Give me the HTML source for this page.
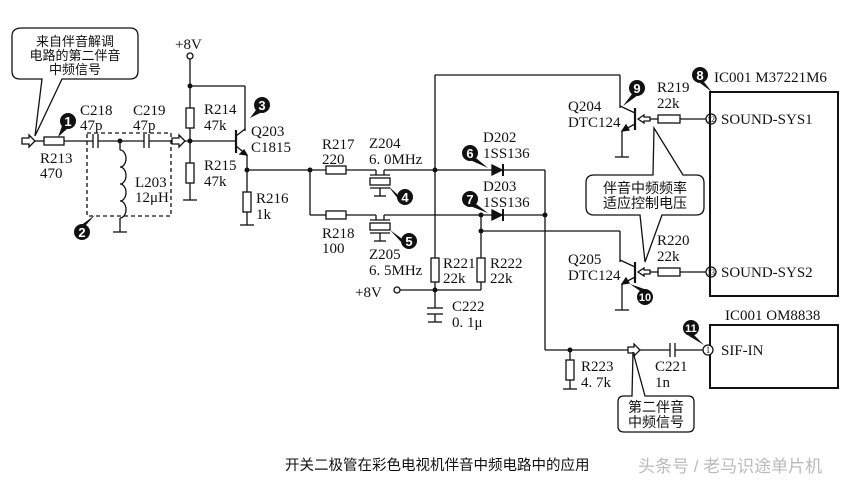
<!DOCTYPE html>
<html><head><meta charset="utf-8"><style>
html,body{margin:0;padding:0;background:#fff;}
svg{display:block;}
text{font-family:"Liberation Serif","Noto Serif CJK SC",serif;font-size:15px;fill:#111;}
.cj{font-family:"Liberation Sans","Noto Sans CJK SC",sans-serif;font-size:13px;}
.b{font-family:"Liberation Sans",sans-serif;font-size:13px;font-weight:bold;fill:#fff;}
.b2{font-family:"Liberation Sans",sans-serif;font-size:11px;font-weight:bold;fill:#fff;}
</style></head><body>
<svg width="851" height="486" viewBox="0 0 851 486" xmlns="http://www.w3.org/2000/svg">
<g stroke="#111" stroke-width="1.3" fill="none">
<path d="M22,28 H130 Q138,28 138,36 V71 Q138,79 130,79 H62 L35,136 L42,79 H20 Q12,79 12,71 V36 Q12,28 22,28 Z" fill="#fff"/>
<path d="M22,138 H29 V135 L35,141 L29,147 V144 H22 Z"/>
<line x1="35" y1="141" x2="44" y2="141"/>
<rect x="44" y="137" width="20" height="8"/>
<line x1="64" y1="141" x2="93" y2="141"/>
<line x1="93" y1="134" x2="93" y2="148"/><line x1="98" y1="134" x2="98" y2="148"/>
<line x1="98" y1="141" x2="144" y2="141"/>
<line x1="144" y1="134" x2="144" y2="148"/><line x1="149" y1="134" x2="149" y2="148"/>
<line x1="149" y1="141" x2="172" y2="141"/>
<line x1="120" y1="141" x2="120" y2="150"/>
<path d="M120,150 a6,8.5 0 0 1 0,17 a6,8.5 0 0 1 0,17 a6,8.5 0 0 1 0,17 a6,8.5 0 0 1 0,17"/>
<line x1="120" y1="218" x2="120" y2="232"/>
<line x1="113" y1="232" x2="127" y2="232"/>
<rect x="87" y="133" width="84" height="83" stroke-dasharray="4,3"/>
<path d="M172,138 H179 V135 L185,141 L179,147 V144 H172 Z"/>
<line x1="185" y1="141" x2="236" y2="141"/>
<circle cx="190" cy="56" r="3"/>
<line x1="190" y1="59" x2="190" y2="108"/>
<rect x="186" y="108" width="8" height="20"/>
<line x1="190" y1="128" x2="190" y2="163"/>
<rect x="186" y="163" width="8" height="20"/>
<line x1="190" y1="183" x2="190" y2="200"/>
<line x1="183" y1="200" x2="197" y2="200"/>
<line x1="190" y1="86" x2="245" y2="86"/>
<line x1="245" y1="86" x2="245" y2="131"/>
<line x1="236" y1="130" x2="236" y2="153" stroke-width="2.2"/>
<line x1="236" y1="136" x2="245" y2="129"/>
<line x1="236" y1="146" x2="247" y2="155"/>
<path d="M247,155 L240,154 L244,150 Z" fill="#111"/>
<line x1="247" y1="155" x2="247" y2="192"/>
<rect x="243" y="192" width="8" height="20"/>
<line x1="247" y1="212" x2="247" y2="225"/>
<line x1="240" y1="225" x2="254" y2="225"/>
<line x1="247" y1="170" x2="326" y2="170"/>
<line x1="310" y1="170" x2="310" y2="215"/>
<line x1="310" y1="215" x2="326" y2="215"/>
<rect x="326" y="166" width="20" height="8"/>
<rect x="326" y="211" width="20" height="8"/>
<line x1="346" y1="170" x2="376" y2="170"/>
<line x1="346" y1="215" x2="376" y2="215"/>
<line x1="376" y1="170" x2="376" y2="175"/><line x1="384" y1="170" x2="384" y2="175"/>
<line x1="384" y1="170" x2="492" y2="170"/>
<line x1="370" y1="175" x2="390" y2="175"/>
<rect x="370" y="178" width="20" height="7"/>
<line x1="370" y1="188" x2="390" y2="188"/>
<line x1="380" y1="188" x2="380" y2="196"/><line x1="374" y1="196" x2="386" y2="196"/>
<line x1="376" y1="215" x2="376" y2="220"/><line x1="384" y1="215" x2="384" y2="220"/>
<line x1="384" y1="215" x2="492" y2="215"/>
<line x1="370" y1="220" x2="390" y2="220"/>
<rect x="370" y="223" width="20" height="7"/>
<line x1="370" y1="233" x2="390" y2="233"/>
<line x1="380" y1="233" x2="380" y2="241"/><line x1="374" y1="241" x2="386" y2="241"/>
<line x1="435" y1="75" x2="435" y2="258"/>
<line x1="435" y1="75" x2="620" y2="75"/>
<line x1="620" y1="75" x2="620" y2="108"/>
<rect x="431" y="258" width="8" height="24"/>
<line x1="435" y1="282" x2="435" y2="308"/>
<line x1="427" y1="308" x2="443" y2="308"/><line x1="427" y1="314" x2="443" y2="314"/>
<line x1="435" y1="314" x2="435" y2="322"/><line x1="428" y1="322" x2="442" y2="322"/>
<circle cx="397" cy="290" r="3"/>
<line x1="400" y1="290" x2="481" y2="290"/>
<line x1="481" y1="282" x2="481" y2="290"/>
<rect x="477" y="258" width="8" height="24"/>
<line x1="481" y1="215" x2="481" y2="258"/>
<line x1="481" y1="231" x2="620" y2="231"/>
<line x1="620" y1="231" x2="620" y2="262"/>
<path d="M492,165 L502,170 L492,175 Z" fill="#111"/><line x1="503" y1="164" x2="503" y2="176" stroke-width="2"/>
<path d="M492,210 L502,215 L492,220 Z" fill="#111"/><line x1="503" y1="209" x2="503" y2="221" stroke-width="2"/>
<line x1="503" y1="170" x2="545" y2="170"/>
<line x1="503" y1="215" x2="545" y2="215"/>
<line x1="545" y1="170" x2="545" y2="350"/>
<line x1="545" y1="350" x2="628" y2="350"/>
<path d="M628,347 H634 V344 L640,350 L634,356 V353 H628 Z"/>
<line x1="640" y1="350" x2="670" y2="350"/>
<line x1="670" y1="343" x2="670" y2="357"/><line x1="675" y1="343" x2="675" y2="357"/>
<line x1="675" y1="350" x2="705" y2="350"/>
<line x1="570" y1="350" x2="570" y2="360"/>
<rect x="566" y="360" width="8" height="20"/>
<line x1="570" y1="380" x2="570" y2="389"/><line x1="563" y1="389" x2="577" y2="389"/>
<line x1="635" y1="108" x2="635" y2="130" stroke-width="2.2"/>
<line x1="635" y1="113" x2="620" y2="106"/>
<line x1="635" y1="124" x2="622" y2="131"/>
<path d="M622,131 L626,125 L629,130 Z" fill="#111"/>
<line x1="622" y1="131" x2="622" y2="157"/><line x1="615" y1="157" x2="629" y2="157"/>
<path d="M638,119 L644,115 V117 H650 V121 H644 V123 Z"/>
<line x1="650" y1="119" x2="658" y2="119"/>
<rect x="658" y="115" width="22" height="8"/>
<line x1="680" y1="119" x2="706" y2="119"/>
<circle cx="711" cy="119" r="5"/>
<line x1="635" y1="262" x2="635" y2="283" stroke-width="2.2"/>
<line x1="635" y1="267" x2="620" y2="260"/>
<line x1="635" y1="277" x2="622" y2="284"/>
<path d="M622,284 L626,278 L629,283 Z" fill="#111"/>
<line x1="622" y1="284" x2="622" y2="310"/><line x1="615" y1="310" x2="629" y2="310"/>
<path d="M638,272 L644,268 V270 H650 V274 H644 V276 Z"/>
<line x1="650" y1="272" x2="658" y2="272"/>
<rect x="658" y="268" width="22" height="8"/>
<line x1="680" y1="272" x2="706" y2="272"/>
<circle cx="711" cy="272" r="5"/>
<rect x="710" y="92" width="128" height="204" stroke-width="2"/>
<rect x="710" y="325" width="128" height="63" stroke-width="2"/>
<circle cx="708" cy="350" r="5" fill="#fff"/>
<path d="M598,175 H653 L654,128 L683,175 H696 Q704,175 704,183 V207 Q704,215 696,215 H662 L645,262 L640,215 H594 Q586,215 586,207 V183 Q586,175 594,175 Z" fill="#fff"/>
<path d="M624,396 H632 L633,352 L645,396 H688 Q694,396 694,402 V426 Q694,432 688,432 H624 Q618,432 618,426 V402 Q618,396 624,396 Z" fill="#fff"/>
</g>
<g fill="#111">
<circle cx="120" cy="141" r="2.5"/><circle cx="190" cy="141" r="2.5"/><circle cx="190" cy="86" r="2.5"/>
<circle cx="247" cy="170" r="2.5"/><circle cx="310" cy="170" r="2.5"/><circle cx="435" cy="170" r="2.5"/>
<circle cx="481" cy="215" r="2.5"/><circle cx="481" cy="231" r="2.5"/><circle cx="545" cy="215" r="2.5"/>
<circle cx="435" cy="290" r="2.5"/><circle cx="570" cy="350" r="2.5"/>
</g>
<g fill="#111">
<circle cx="68" cy="121" r="8"/><path d="M62,126 L58,137 L68,128 Z"/>
<circle cx="82" cy="232" r="8"/><path d="M86,225 L95,215 L80,226 Z"/>
<circle cx="262" cy="105" r="8"/><path d="M256,110 L250,118 L262,112 Z"/>
<circle cx="405" cy="197" r="8"/><path d="M397,194 L388,186 L399,200 Z"/>
<circle cx="409" cy="241" r="8"/><path d="M401,238 L390,230 L403,244 Z"/>
<circle cx="470" cy="153" r="8"/><path d="M476,158 L488,168 L470,160 Z"/>
<circle cx="470" cy="199" r="8"/><path d="M476,204 L488,213 L470,206 Z"/>
<circle cx="700" cy="75" r="8"/><path d="M704,82 L712,92 L700,83 Z"/>
<circle cx="637" cy="88" r="8"/><path d="M632,94 L623,106 L638,95 Z"/>
<circle cx="645" cy="297" r="8"/><path d="M640,291 L630,284 L647,290 Z"/>
<circle cx="691" cy="328" r="8"/><path d="M694,335 L704,345 L689,336 Z"/>
</g>
<g text-anchor="middle">
<text class="b" x="68" y="126">1</text><text class="b" x="82" y="237">2</text><text class="b" x="262" y="110">3</text>
<text class="b" x="405" y="202">4</text><text class="b" x="409" y="246">5</text><text class="b" x="470" y="158">6</text>
<text class="b" x="470" y="204">7</text><text class="b" x="700" y="80">8</text><text class="b" x="637" y="93">9</text>
<text class="b2" x="645" y="301">10</text><text class="b2" x="691" y="332">11</text>
</g>
<g text-anchor="middle">
<text x="711" y="122" style="font-size:8px">12</text><text x="711" y="275" style="font-size:8px">13</text><text x="708" y="353" style="font-size:9px">1</text>
</g>
<text class="cj" x="75" y="46" text-anchor="middle">来自伴音解调</text>
<text class="cj" x="75" y="60" text-anchor="middle">电路的第二伴音</text>
<text class="cj" x="75" y="74" text-anchor="middle">中频信号</text>
<text x="175" y="49">+8V</text>
<text x="80" y="115">C218</text><text x="80" y="130">47p</text>
<text x="133" y="115">C219</text><text x="133" y="130">47p</text>
<text x="40" y="163">R213</text><text x="40" y="178">470</text>
<text x="135" y="187">L203</text><text x="135" y="202">12μH</text>
<text x="204" y="114">R214</text><text x="204" y="130">47k</text>
<text x="204" y="170">R215</text><text x="204" y="186">47k</text>
<text x="251" y="136">Q203</text><text x="251" y="152">C1815</text>
<text x="256" y="203">R216</text><text x="256" y="219">1k</text>
<text x="322" y="149">R217</text><text x="322" y="164">220</text>
<text x="369" y="148">Z204</text><text x="369" y="164">6. 0MHz</text>
<text x="322" y="238">R218</text><text x="322" y="253">100</text>
<text x="369" y="259">Z205</text><text x="369" y="275">6. 5MHz</text>
<text x="483" y="142">D202</text><text x="483" y="158">1SS136</text>
<text x="483" y="191">D203</text><text x="483" y="207">1SS136</text>
<text x="443" y="268">R221</text><text x="443" y="283">22k</text>
<text x="490" y="268">R222</text><text x="490" y="283">22k</text>
<text x="355" y="297">+8V</text>
<text x="452" y="311">C222</text><text x="452" y="327">0. 1μ</text>
<text x="568" y="111">Q204</text><text x="568" y="127">DTC124</text>
<text x="568" y="264">Q205</text><text x="568" y="280">DTC124</text>
<text x="657" y="92">R219</text><text x="657" y="108">22k</text>
<text x="657" y="245">R220</text><text x="657" y="261">22k</text>
<text x="714" y="82">IC001 M37221M6</text>
<text x="721" y="124">SOUND-SYS1</text>
<text x="721" y="277">SOUND-SYS2</text>
<text x="725" y="320">IC001 OM8838</text>
<text x="721" y="355">SIF-IN</text>
<text x="581" y="371">R223</text><text x="581" y="387">4. 7k</text>
<text x="655" y="371">C221</text><text x="655" y="387">1n</text>
<text class="cj" x="645" y="193" text-anchor="middle" style="font-size:14px">伴音中频频率</text>
<text class="cj" x="645" y="208" text-anchor="middle" style="font-size:14px">适应控制电压</text>
<text class="cj" x="656" y="412" text-anchor="middle" style="font-size:14px">第二伴音</text>
<text class="cj" x="656" y="427" text-anchor="middle" style="font-size:14px">中频信号</text>
<text class="cj" x="285" y="470" style="font-size:14.5px">开关二极管在彩色电视机伴音中频电路中的应用</text>
<text class="cj" x="638" y="472" style="font-size:17px;fill:#bbb">头条号 / 老马识途单片机</text>
</svg>
</body></html>
